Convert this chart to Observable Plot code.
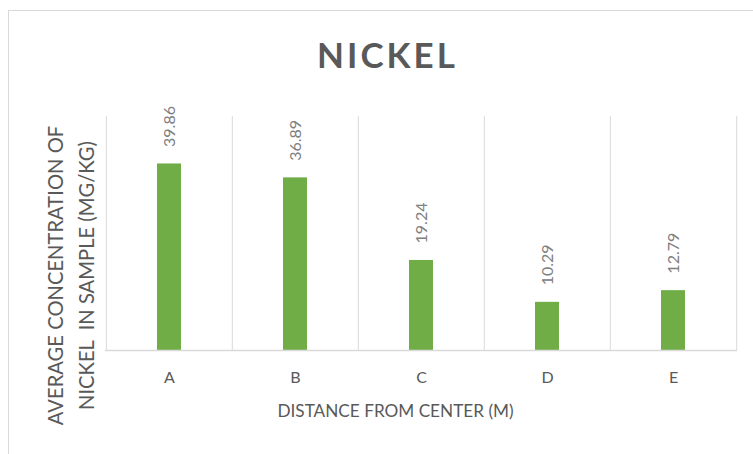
<!DOCTYPE html>
<html>
<head>
<meta charset="utf-8">
<script src="https://cdn.jsdelivr.net/npm/d3@7"></script>
<script src="https://cdn.jsdelivr.net/npm/@observablehq/plot@0.6"></script>
<style>
  html, body { margin: 0; padding: 0; background: #ffffff; }
  #wrap { position: relative; width: 753px; height: 454px; overflow: hidden; }
  #frame { position: absolute; left: 8px; top: 10px; width: 758px; height: 470px;
           border: 1px solid #d9d9d9; box-sizing: border-box; }
  #chart { position: absolute; left: 0; top: 0; }
</style>
</head>
<body>
<div id="wrap">
  <div id="frame"></div>
  <div id="chart"></div>
</div>
<script>
// Average nickel concentration by distance from center
const distances = ["A", "B", "C", "D", "E"];
const nickel = [39.86, 36.89, 19.24, 10.29, 12.79];
const yDomain = [0, 50];

const chartTitle = "NICKEL";
const xTitle = "DISTANCE FROM CENTER (M)";
const yTitle = "AVERAGE CONCENTRATION OF\nNICKEL  IN SAMPLE (MG/KG)";

const rows = distances.map((d, i) => ({distance: d, value: nickel[i]}));

const W = 753, H = 454;
const margin = {top: 116, right: 16, bottom: 104, left: 105};
const step = (W - margin.left - margin.right) / distances.length;
const font = "Lato, 'Open Sans', sans-serif";

const plot = Plot.plot({
  width: W,
  height: H,
  marginTop: margin.top,
  marginRight: margin.right,
  marginBottom: margin.bottom,
  marginLeft: margin.left,
  style: {fontFamily: font, background: "transparent", overflow: "visible"},
  x: {domain: distances, paddingInner: 0.81, paddingOuter: 0.405, label: null},
  y: {domain: yDomain, axis: null},
  marks: [
    // category separators
    Plot.ruleX(distances, {x: d => d, dx: -step / 2, stroke: "#d9d9d9", strokeWidth: 1}),
    Plot.ruleX(distances.slice(-1), {x: d => d, dx: step / 2, stroke: "#d9d9d9", strokeWidth: 1}),
    Plot.barY(rows, {x: "distance", y: "value", fill: "#70ad47"}),
    Plot.ruleY([0], {stroke: "#d9d9d9", strokeWidth: 1.5}),
    Plot.text(rows, {
      x: "distance", y: "value", text: d => d.value.toFixed(2),
      rotate: -90, textAnchor: "start", dy: -17,
      fill: "#808080", fontSize: 16
    }),
    Plot.axisX({tickSize: 0, tickPadding: 21, fontSize: 16, color: "#595959", label: null}),
    Plot.text([xTitle], {
      frameAnchor: "bottom", lineAnchor: "middle", dy: 61, dx: -26,
      fill: "#595959", fontSize: 17.2
    }),
    Plot.text([yTitle], {
      frameAnchor: "left", textAnchor: "middle", lineAnchor: "middle",
      dx: -37, dy: 42, rotate: -90,
      lineHeight: 1.55, fill: "#595959", fontSize: 20.2
    }),
    Plot.text([chartTitle], {
      frameAnchor: "top", lineAnchor: "middle", dy: -60, dx: -34,
      fill: "#595959", fontSize: 35, fontWeight: "bold"
    })
  ]
});

document.getElementById("chart").append(plot);
// letter spacing on the title
d3.select(plot).selectAll("text").filter(function () { return this.textContent === chartTitle; })
  .attr("letter-spacing", "3px");
</script>
</body>
</html>
